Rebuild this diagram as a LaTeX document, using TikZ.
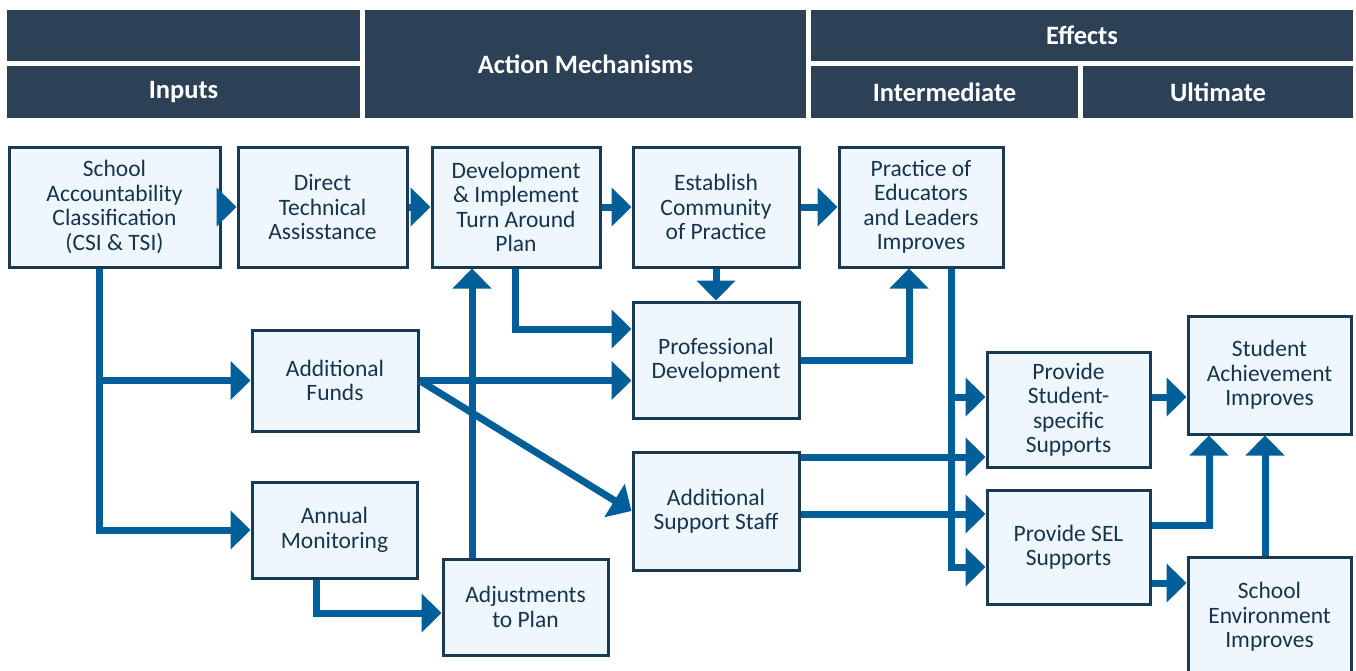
\documentclass[tikz,border=0pt]{standalone}
\usepackage{fontspec}
\setmainfont{Carlito}
\usetikzlibrary{arrows.meta}

\definecolor{hdrblue}{RGB}{44,65,86}
\definecolor{boxline}{RGB}{25,58,82}
\definecolor{boxfill}{RGB}{239,247,254}
\definecolor{boxtext}{RGB}{22,52,76}
\definecolor{arrblue}{RGB}{0,95,153}

\begin{document}
\begin{tikzpicture}
  [x=1pt,y=-1pt,
   hdr/.style={rectangle,fill=hdrblue,text=white,inner sep=0pt,
     font=\bfseries\fontsize{26.5}{30}\selectfont},
   box/.style={rectangle,draw=boxline,line width=3pt,fill=boxfill,text=boxtext,
     align=center,inner sep=0pt,font=\fontsize{23.5}{24.5}\selectfont},
   arr/.style={draw=arrblue,line width=7pt,-{Triangle[width=38pt,length=20pt]}}]
  \fill[white] (0,0) rectangle (1356,670);
  \useasboundingbox (0,0) rectangle (1356,670);

  \node[hdr,minimum width=353,minimum height=51] (hin) at (183.5,35.5) {};
  \node[hdr,minimum width=353,minimum height=52] (inputs) at (183.5,92) {Inputs};
  \node[hdr,minimum width=441,minimum height=108] (action) at (585.5,64) {Action Mechanisms};
  \node[hdr,minimum width=542,minimum height=51] (effects) at (1082,35.5) {Effects};
  \node[hdr,minimum width=267,minimum height=52] (inter) at (944.5,92) {Intermediate};
  \node[hdr,minimum width=270,minimum height=52] (ultim) at (1218,92) {Ultimate};

  \node[box,minimum width=211,minimum height=120] (sac) at (114.5,207) {School\\Accountability\\Classification\\(CSI \& TSI)};
  \node[box,minimum width=169,minimum height=120] (dta) at (322.5,207) {Direct\\Technical\\Assisstance};
  \node[box,minimum width=168,minimum height=120] (dev) at (516,207) {Development\\\& Implement\\Turn Around\\Plan};
  \node[box,minimum width=166,minimum height=120] (ecp) at (716,207) {Establish\\Community\\of Practice};
  \node[box,minimum width=164,minimum height=120] (pel) at (921,207) {Practice of\\Educators\\and Leaders\\Improves};
  \node[box,minimum width=166,minimum height=101] (af) at (335,380.5) {Additional\\Funds};
  \node[box,minimum width=166,minimum height=116] (pd) at (716,360) {Professional\\Development};
  \node[box,minimum width=165,minimum height=96] (am) at (334.5,530) {Annual\\Monitoring};
  \node[box,minimum width=165,minimum height=96] (adj) at (525.5,607) {Adjustments\\to Plan};
  \node[box,minimum width=166,minimum height=118] (ass) at (716,511) {Additional\\Support Staff};
  \node[box,minimum width=163,minimum height=115] (pss) at (1068.5,409.5) {Provide\\Student-\\specific\\Supports};
  \node[box,minimum width=163,minimum height=114] (psel) at (1068.5,547) {Provide SEL\\Supports};
  \node[box,minimum width=163,minimum height=118] (sai) at (1269.5,375) {Student\\Achievement\\Improves};
  \node[box,minimum width=163,minimum height=120] (sei) at (1269.5,617) {School\\Environment\\Improves};

  \coordinate (s1) at (sac.south -| 99,0);
  \coordinate (p1) at (pel.south -| 951,0);

  \draw[arr] (sac.east) -- (dta.west);
  \draw[arr] (dta.east) -- (dev.west);
  \draw[arr] (dev.east) -- (ecp.west);
  \draw[arr] (ecp.east) -- (pel.west);
  \draw[arr] (ecp.south) -- (pd.north);
  \draw[arr] (dev.south -| 515,0) |- (pd.west |- 0,329);
  \draw[arr] (s1) |- (am.west);
  \draw[arr] (s1 |- af.west) -- (af.west);
  \draw[arr] (af.east) -- (pd.west |- af.east);
  \draw[arr] (af.east) -- (ass.west);
  \draw[arr] (am.south -| 316,0) |- (adj.west |- 0,613);
  \draw[arr] (adj.north -| 472,0) -- (dev.south -| 472,0);
  \draw[arr] (pd.east) -| (pel.south -| 909,0);
  \draw[arr] (p1) |- (psel.west |- 0,567);
  \draw[arr] (p1 |- 0,397) -- (pss.west |- 0,397);
  \draw[arr] (ass.east |- 0,457) -- (pss.west |- 0,457);
  \draw[arr] (ass.east |- 0,514) -- (psel.west |- 0,514);
  \draw[arr] (pss.east |- 0,397) -- (sai.west |- 0,397);
  \draw[arr] (psel.east |- 0,525) -| (sai.south -| 1209,0);
  \draw[arr] (sei.north -| 1265,0) -- (sai.south -| 1265,0);
  \draw[arr] (psel.east |- 0,583) -- (sei.west |- 0,583);
\end{tikzpicture}
\end{document}
